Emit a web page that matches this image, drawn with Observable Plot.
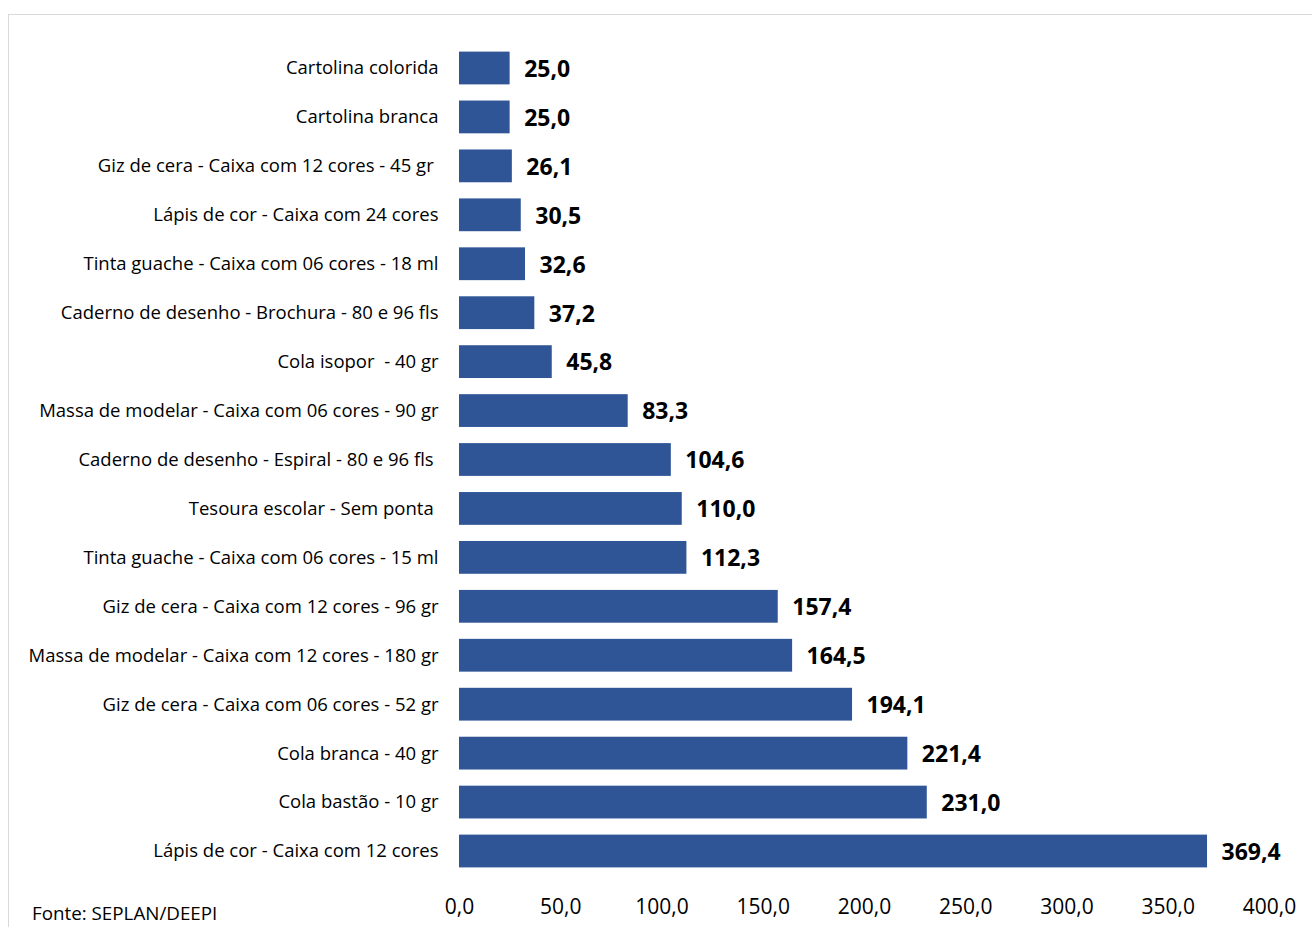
<!DOCTYPE html>
<html>
<head>
<meta charset="utf-8">
<script src="https://cdn.jsdelivr.net/npm/d3@7"></script>
<script src="https://cdn.jsdelivr.net/npm/@observablehq/plot@0.6"></script>
<style>
  html, body { margin: 0; padding: 0; background: #fff; }
  #wrap { position: relative; width: 1312px; height: 927px; overflow: hidden; font-family: "Open Sans", sans-serif; }
  #frame { position: absolute; left: 8px; top: 14px; width: 1400px; height: 1000px; border: 1px solid #d9d9d9; box-sizing: border-box; }
  #chart { position: absolute; left: 0; top: 0; }
  #source { position: absolute; left: 32px; top: 900px; font-size: 18.8px; line-height: 26px; color: #000; }
</style>
</head>
<body>
<div id="wrap">
  <div id="frame"></div>
  <div id="chart"></div>
  <div id="source">Fonte: SEPLAN/DEEPI</div>
</div>
<script>
const items = [
  "Cartolina colorida",
  "Cartolina branca",
  "Giz de cera - Caixa com 12 cores - 45 gr ",
  "Lápis de cor - Caixa com 24 cores",
  "Tinta guache - Caixa com 06 cores - 18 ml",
  "Caderno de desenho - Brochura - 80 e 96 fls",
  "Cola isopor  - 40 gr",
  "Massa de modelar - Caixa com 06 cores - 90 gr",
  "Caderno de desenho - Espiral - 80 e 96 fls ",
  "Tesoura escolar - Sem ponta ",
  "Tinta guache - Caixa com 06 cores - 15 ml",
  "Giz de cera - Caixa com 12 cores - 96 gr",
  "Massa de modelar - Caixa com 12 cores - 180 gr",
  "Giz de cera - Caixa com 06 cores - 52 gr",
  "Cola branca - 40 gr",
  "Cola bastão - 10 gr",
  "Lápis de cor - Caixa com 12 cores"
];
const values = [25.0, 25.0, 26.1, 30.5, 32.6, 37.2, 45.8, 83.3, 104.6, 110.0, 112.3, 157.4, 164.5, 194.1, 221.4, 231.0, 369.4];
const xTicks = [0, 50, 100, 150, 200, 250, 300, 350, 400];

const data = items.map((name, i) => ({name, value: values[i]}));
const fmt = v => v.toFixed(1).replace(".", ",");

const chart = Plot.plot({
  width: 1312,
  height: 927,
  marginLeft: 459,
  marginRight: 43,
  marginTop: 51.6,
  marginBottom: 59.6,
  style: {fontFamily: "'Open Sans', sans-serif", background: "transparent", overflow: "visible"},
  x: {domain: [0, 400], ticks: xTicks, tickFormat: fmt},
  y: {domain: items, paddingInner: 0.33, paddingOuter: 0, round: false},
  marks: [
    Plot.barX(data, {x: "value", y: "name", fill: "#2f5597"}),
    Plot.text(data, {x: "value", y: "name", text: d => fmt(d.value), textAnchor: "start", dx: 14, dy: 1, fontWeight: "bold", fontSize: 23, fill: "#000"}),
    Plot.axisY({tickSize: 0, tickPadding: 21, fontSize: 18.5, label: null, color: "#000"}),
    Plot.axisX({ticks: xTicks, tickFormat: fmt, tickSize: 0, tickPadding: 31, fontSize: 21, label: null, color: "#000"})
  ]
});
d3.select(chart).selectAll("text").style("white-space", "pre");
document.getElementById("chart").appendChild(chart);
</script>
</body>
</html>
